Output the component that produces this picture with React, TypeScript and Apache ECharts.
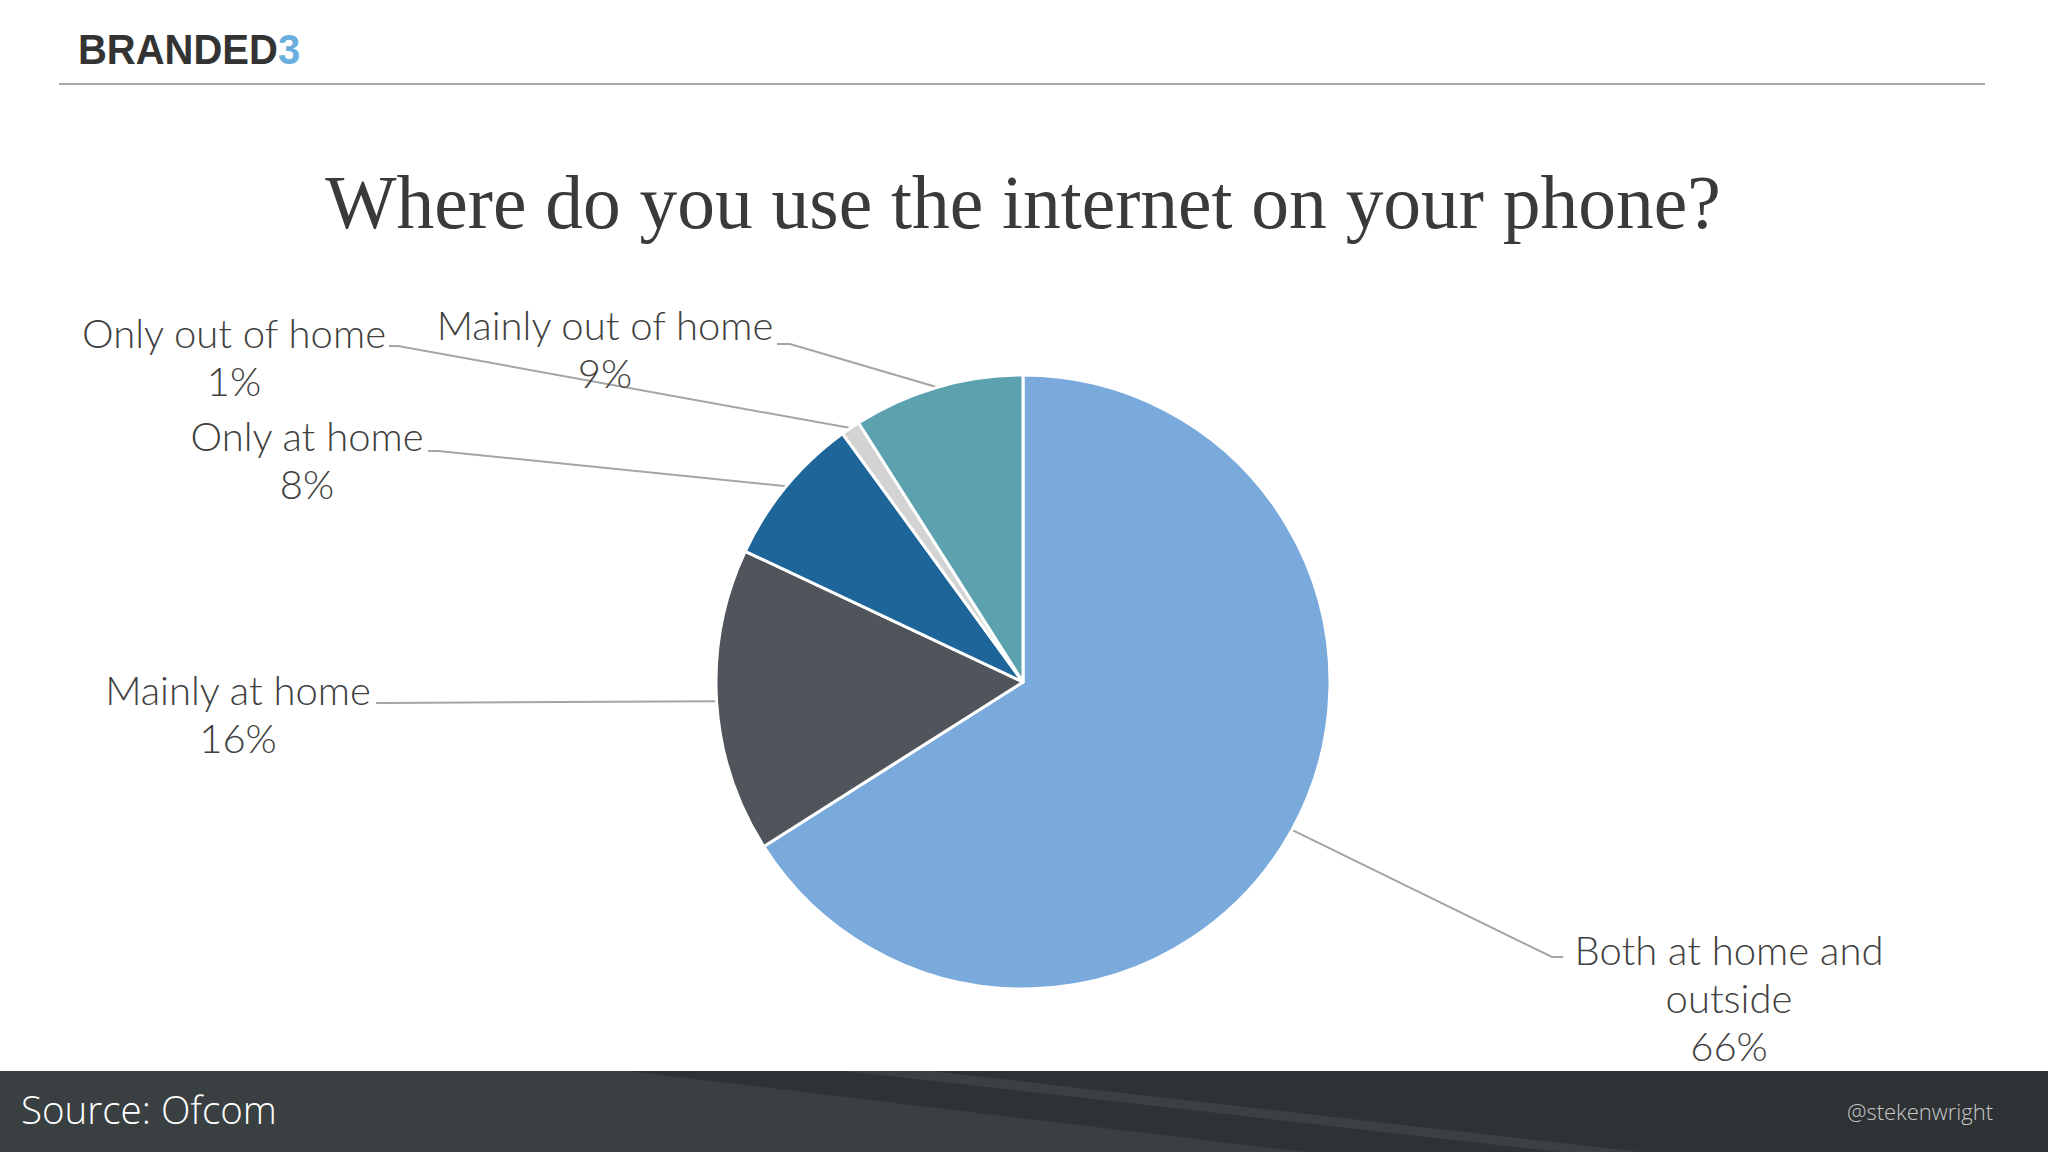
import React, { useEffect, useRef } from "react";
import * as echarts from "echarts";

const categories = [
  "Both at home and outside",
  "Mainly at home",
  "Only at home",
  "Only out of home",
  "Mainly out of home",
];
const shares = [66, 16, 8, 1, 9];
const sliceColors = ["#7aaadb", "#4f555b", "#1e6699", "#d3d3d3", "#5ca1ae"];

// label layout (text top-center, attach edge, bend x, line y)
const labelPlaces = [
  { x: 1729, y: 926, ex: 1563, bx: 1552, ly: 957 },
  { x: 238, y: 666, ex: 376, bx: 386, ly: 703 },
  { x: 307, y: 412, ex: 428, bx: 438, ly: 451 },
  { x: 234, y: 309, ex: 389, bx: 398, ly: 346 },
  { x: 605, y: 301, ex: 777, bx: 790, ly: 344 },
];

export default function App() {
  const ref = useRef<HTMLDivElement>(null);
  useEffect(() => {
    document.body.style.margin = "0";
    const chart = echarts.init(ref.current!, null, { renderer: "svg" });
    chart.setOption({
      animation: false,
      backgroundColor: "#ffffff",
      graphic: [
        {
          type: "text",
          x: 78,
          y: 27,
          scaleX: 0.93,
          style: {
            text: "{a|BRANDED}{b|3}",
            rich: {
              a: { fontFamily: "Liberation Sans", fontWeight: "bold", fontSize: 43, fill: "#333333" },
              b: { fontFamily: "Liberation Sans", fontWeight: "bold", fontSize: 43, fill: "#6aaee0" },
            },
          },
        },
        {
          type: "line",
          shape: { x1: 59, y1: 84, x2: 1985, y2: 84 },
          style: { stroke: "#a8a8a8", lineWidth: 2 },
        },
        {
          type: "text",
          x: 1023,
          y: 240,
          scaleX: 0.98,
          style: {
            text: "Where do you use the internet on your phone?",
            fontFamily: "Liberation Serif",
            fontSize: 77,
            fill: "#3a3a3a",
            textAlign: "center",
            textVerticalAlign: "bottom",
          },
        },
        {
          type: "rect",
          shape: { x: 0, y: 1071, width: 2048, height: 81 },
          style: { fill: "#3a3f41" },
        },
        {
          type: "polygon",
          shape: { points: [[627, 1071], [2048, 1071], [2048, 1152], [1306, 1152]] },
          style: { fill: "#2e3234" },
        },
        {
          type: "polygon",
          shape: { points: [[845, 1071], [930, 1071], [1640, 1152], [1560, 1152]] },
          style: { fill: "#3b4143" },
        },
        {
          type: "text",
          x: 21,
          y: 1109,
          style: {
            text: "Source: Ofcom",
            fontFamily: "Open Sans",
            fontWeight: 300,
            fontSize: 38.5,
            fill: "#ffffff",
            textVerticalAlign: "middle",
          },
        },
        {
          type: "text",
          x: 1993,
          y: 1111,
          style: {
            text: "@stekenwright",
            fontFamily: "Open Sans",
            fontWeight: 300,
            fontSize: 22,
            fill: "#c8c8c8",
            textAlign: "right",
            textVerticalAlign: "middle",
          },
        },
      ],
      series: [
        {
          type: "pie",
          center: [1023, 682],
          radius: 307,
          startAngle: 90,
          clockwise: true,
          avoidLabelOverlap: false,
          itemStyle: { borderColor: "#ffffff", borderWidth: 3 },
          data: categories.map((name, i) => ({
            name,
            value: shares[i],
            itemStyle: { color: sliceColors[i] },
          })),
          label: {
            show: true,
            formatter: (p: any) => p.name.replace(" outside", "\noutside") + "\n" + p.value + "%",
            fontFamily: "Lato",
            fontWeight: 300,
            fontSize: 40,
            lineHeight: 48,
            color: "#404040",
            align: "center",
          },
          labelLine: {
            show: true,
            lineStyle: { color: "#a5a5a5", width: 2 },
          },
          labelLayout: (params: any) => {
            const pl = labelPlaces[params.dataIndex];
            const p0 = params.labelLinePoints ? params.labelLinePoints[0] : [pl.bx, pl.ly];
            return {
              x: pl.x,
              y: pl.y,
              align: "center",
              verticalAlign: "top",
              labelLinePoints: [p0, [pl.bx, pl.ly], [pl.ex, pl.ly]],
            };
          },
        },
      ],
    });
    return () => chart.dispose();
  }, []);
  return (
    <div
      ref={ref}
      style={{ position: "fixed", left: 0, top: 0, width: 2048, height: 1152 }}
    />
  );
}
